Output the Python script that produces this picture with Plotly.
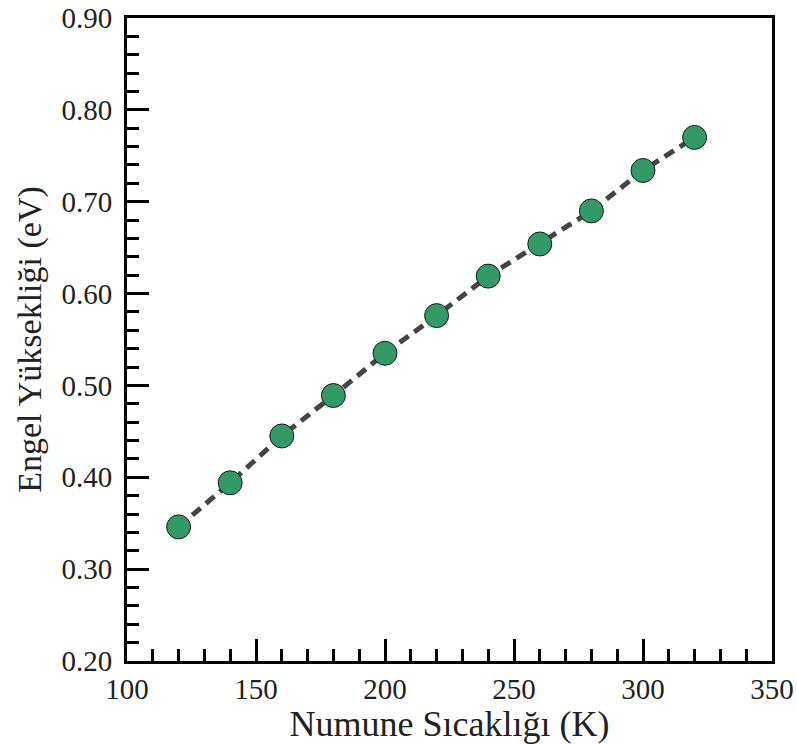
import plotly.graph_objects as go

temperature_K = [120, 140, 160, 180, 200, 220, 240, 260, 280, 300, 320]
barrier_eV = [0.346, 0.394, 0.445, 0.489, 0.535, 0.576, 0.619, 0.654, 0.690, 0.734, 0.770]

x_title = "Numune Sıcaklığı (K)"
y_title = "Engel Yüksekliği (eV)"

FONT = "Liberation Serif, Times New Roman, serif"
TICKFONT = "Times New Roman, Liberation Serif, serif"

fig = go.Figure()
fig.add_trace(go.Scatter(
    x=temperature_K, y=barrier_eV, mode="lines+markers",
    line=dict(color="#444444", width=5, dash="11px,7px"),
    marker=dict(size=24, color="#339966", line=dict(color="#1a1a1a", width=1)),
    showlegend=False,
))

axis_common = dict(
    showline=True, linecolor="black", linewidth=3, mirror=True,
    ticks="inside", ticklen=22, tickwidth=3, tickcolor="black",
    showgrid=False, zeroline=False,
)

fig.update_xaxes(
    range=[100, 350], tickvals=[100, 150, 200, 250, 300, 350],
    ticktext=["100", "150", "200", "250", "300", "350"],
    tickfont=dict(family=TICKFONT, size=29, color="#222222"),
    minor=dict(ticks="inside", ticklen=12, tickwidth=3, tickcolor="black", dtick=10),
    title=dict(text=x_title, font=dict(family=FONT, size=36, color="#222222"), standoff=5),
    **axis_common,
)
fig.update_yaxes(
    range=[0.20, 0.90], tickvals=[0.2, 0.3, 0.4, 0.5, 0.6, 0.7, 0.8, 0.9],
    ticktext=["0.20", "0.30", "0.40", "0.50", "0.60", "0.70", "0.80", "0.90"],
    tickfont=dict(family=TICKFONT, size=29, color="#222222"),
    minor=dict(ticks="inside", ticklen=12, tickwidth=3, tickcolor="black", dtick=0.02),
    title=dict(text=y_title, font=dict(family=FONT, size=34, color="#222222"), standoff=10),
    ticklabelstandoff=6,
    **axis_common,
)

fig.update_layout(
    width=797, height=744,
    font=dict(family=FONT, color="#222222"),
    margin=dict(l=127, r=25, t=18, b=83, autoexpand=False),
    plot_bgcolor="white", paper_bgcolor="white",
)

fig.write_html("out.html")
